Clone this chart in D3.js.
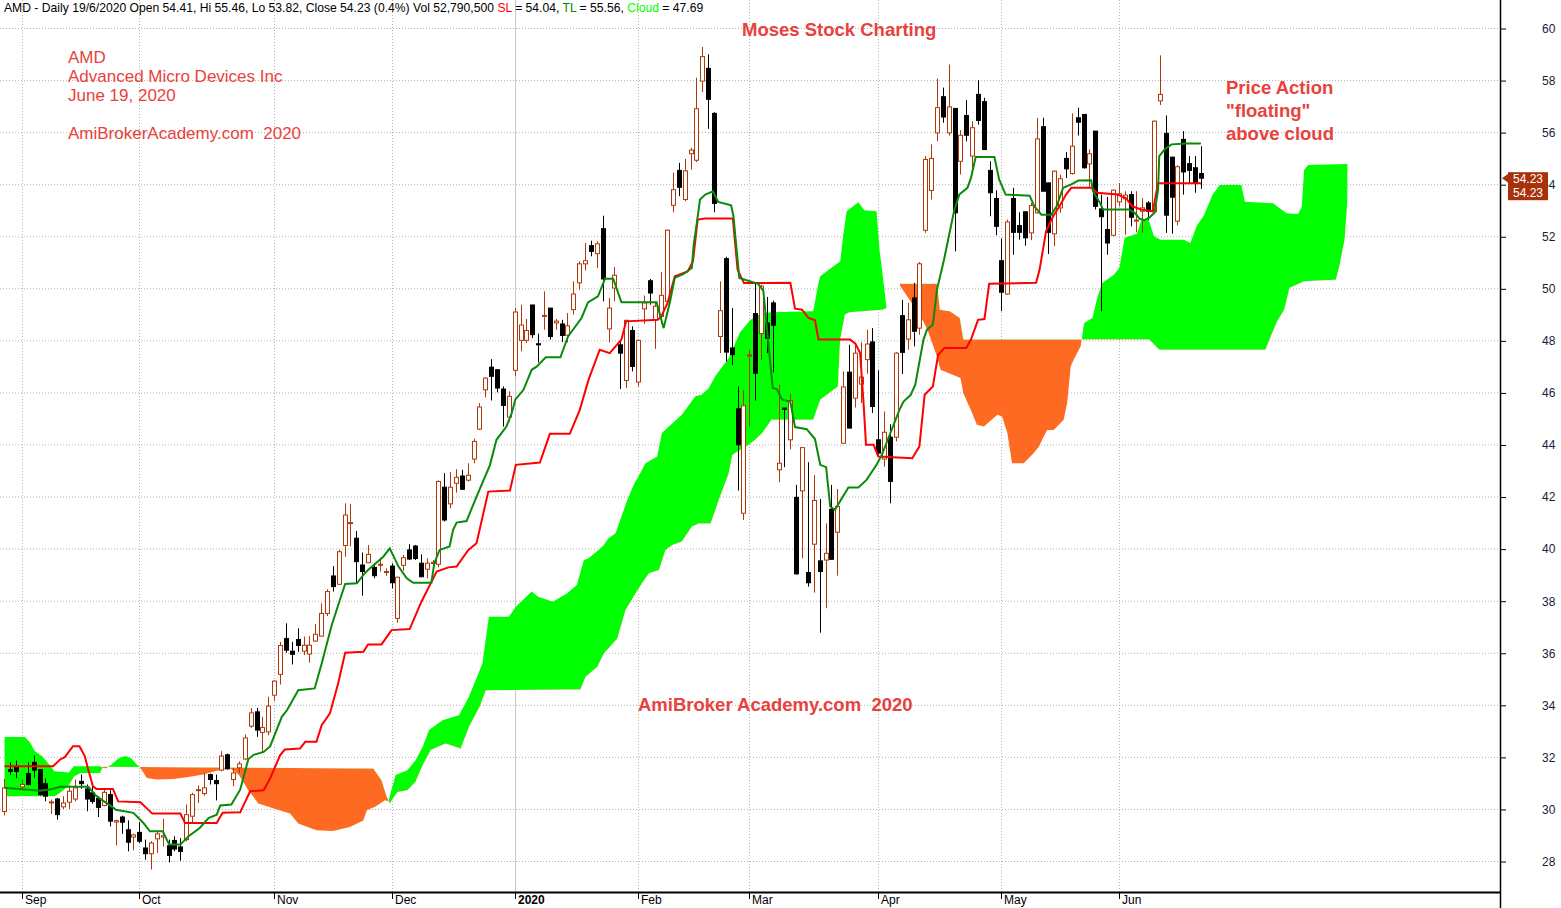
<!DOCTYPE html>
<html><head><meta charset="utf-8">
<script src="https://cdn.jsdelivr.net/npm/d3@7/dist/d3.min.js"></script>
<style>html,body{margin:0;padding:0;background:#fff;}svg{display:block;}</style>
</head><body><svg id="chart" width="1561" height="908"></svg>
<script>
// ---------- DATA (x = trading-day index, 0 = 28 Aug 2019) ----------
const monthLabels = ["Sep","Oct","Nov","Dec","2020","Feb","Mar","Apr","May","Jun"];
const monthIndex  = [3, 23, 46, 66, 87, 108, 127, 149, 170, 190];
const yTicks = [28,30,32,34,36,38,40,42,44,46,48,50,52,54,56,58,60];

const openVals = [29.90,31.51,31.64,30.85,31.36,31.79,31.51,30.97,30.25,30.38,30.08,30.26,30.38,31.06,30.77,30.62,30.40,30.13,30.55,29.50,
29.69,29.20,28.92,29.10,28.50,28.28,28.85,28.92,28.59,28.79,28.54,28.82,29.72,30.71,30.59,31.32,31.09,31.49,32.08,31.13,
31.58,31.92,33.18,33.73,32.94,32.96,34.37,35.17,36.55,36.06,36.51,36.06,35.95,36.45,36.64,37.51,38.95,38.63,40.12,40.97,
40.40,39.37,39.46,39.28,39.37,39.10,39.33,37.32,39.36,39.95,40.10,39.44,39.21,39.45,39.40,42.36,41.72,42.51,42.79,42.63,
43.44,44.59,46.10,46.97,46.87,46.13,45.05,46.85,48.00,48.00,49.36,47.87,48.93,49.24,48.67,48.63,48.20,49.18,50.21,50.94,
51.64,51.33,52.29,48.44,50.01,47.83,46.46,48.38,46.40,49.21,50.29,48.79,48.92,49.50,53.19,54.53,53.41,55.17,54.92,57.96,
58.45,56.72,48.15,51.14,47.71,45.37,41.36,47.42,49.03,48.26,48.67,49.44,43.03,45.40,44.18,41.97,42.22,39.08,40.17,39.53,
39.56,41.51,40.63,44.05,46.78,45.78,46.32,47.26,47.94,44.18,43.44,44.28,44.28,48.95,48.05,49.63,48.47,52.23,53.76,55.97,
57.36,55.97,56.91,54.88,56.64,55.08,57.45,57.17,54.53,53.45,51.06,49.78,53.45,52.41,52.94,52.13,52.90,56.21,54.05,52.09,
53.09,54.99,54.41,56.55,56.68,54.78,56.04,53.05,52.26,52.04,53.32,53.44,53.60,52.60,52.96,53.28,52.94,57.20,55.95,55.04,
52.58,55.72,54.79,54.63,54.41];
const highVals = [31.15,31.79,31.86,31.13,31.79,32.05,31.51,31.17,30.36,30.42,30.49,30.90,31.13,31.32,30.94,30.94,30.49,30.74,30.72,29.59,
29.74,29.56,29.05,29.50,28.82,28.76,29.14,29.62,28.82,28.95,28.88,30.17,30.62,30.90,31.38,31.36,31.32,32.22,32.13,31.58,
31.83,32.86,33.88,33.88,33.54,34.31,34.95,36.42,37.13,36.42,36.94,36.62,36.64,37.10,37.90,38.44,39.33,39.95,41.74,41.72,
40.68,39.85,40.14,39.44,39.65,39.24,39.44,38.92,39.76,40.17,40.14,39.78,39.63,39.56,42.62,42.90,42.94,43.05,43.03,43.28,
44.22,45.59,46.58,47.28,46.90,46.23,46.04,49.24,49.37,48.82,49.36,48.26,49.88,49.24,48.82,48.79,49.05,50.27,51.04,51.74,
51.83,51.81,52.79,49.63,50.82,47.96,48.79,48.54,48.03,49.72,50.36,49.44,50.62,52.26,54.44,54.82,54.97,55.40,58.09,59.27,
58.99,56.77,50.27,51.21,49.24,46.23,46.08,47.64,50.17,50.14,49.67,49.53,46.29,45.40,45.95,42.45,43.90,43.32,42.83,41.91,
40.97,42.45,42.29,46.81,47.83,47.83,47.92,48.41,48.47,46.85,45.27,44.78,47.55,49.56,49.44,50.21,51.01,55.08,55.53,58.06,
57.71,58.60,56.91,56.08,57.23,56.42,58.00,57.32,54.88,53.76,51.91,52.64,53.86,52.92,52.94,53.28,56.55,56.55,54.05,54.53,
54.37,55.23,56.72,56.94,56.68,55.33,56.04,53.60,53.51,53.79,54.05,53.73,53.73,53.73,53.47,53.35,56.45,58.95,56.64,55.04,
54.72,56.04,55.08,55.08,55.46];
const lowVals = [29.75,31.31,31.18,30.74,30.90,31.19,30.51,30.29,29.81,29.59,30.00,30.00,30.29,30.77,29.91,30.20,29.69,30.10,29.33,28.60,
29.04,28.37,28.41,28.69,28.05,27.67,28.31,28.56,27.95,28.37,28.01,28.76,29.46,30.23,30.51,30.94,30.33,31.45,31.51,30.87,
31.38,31.87,33.12,32.77,32.15,32.83,34.15,34.78,36.00,35.55,36.04,35.91,35.62,36.42,36.62,37.41,38.35,38.60,39.69,40.08,
38.67,38.19,39.44,38.86,39.12,38.95,38.47,37.15,39.15,39.56,39.56,38.90,38.86,39.28,39.28,41.04,41.55,42.15,42.26,42.58,
43.28,44.56,45.81,45.69,46.00,44.69,44.88,46.62,47.58,47.90,48.09,47.15,48.41,48.03,48.41,47.94,47.92,48.99,49.95,50.69,
51.23,50.78,49.50,47.92,49.50,46.13,46.17,46.81,46.23,48.64,49.37,47.67,48.64,49.44,52.92,53.54,53.35,54.56,54.85,57.54,
56.13,52.92,47.51,47.19,47.06,42.23,41.10,44.69,45.69,47.23,47.51,46.77,42.55,43.13,43.82,39.00,39.63,38.54,38.31,36.77,
37.71,39.59,38.96,44.03,44.63,45.42,45.59,46.72,45.21,43.54,43.15,41.74,44.12,46.71,47.64,47.77,48.22,52.13,53.41,55.65,
56.36,55.87,51.42,54.37,55.65,54.44,56.29,55.31,52.77,52.04,49.12,49.76,51.29,51.87,51.64,51.85,52.87,53.73,51.32,51.62,
52.90,54.24,54.37,55.87,54.60,53.86,53.03,49.12,51.29,52.00,53.15,52.06,52.38,52.15,52.15,52.62,52.90,57.04,52.13,52.10,
52.42,53.60,54.05,53.67,53.82];
const closeVals = [30.81,31.44,31.44,30.94,30.94,31.49,30.55,30.49,30.27,29.78,30.23,30.68,30.81,30.97,30.38,30.29,30.06,30.64,29.53,29.55,
29.49,28.72,29.00,28.76,28.28,28.69,29.04,28.97,28.21,28.46,28.37,29.78,30.55,30.74,30.81,31.13,30.97,32.03,31.54,31.38,
31.73,32.73,33.69,33.03,33.13,33.95,34.91,36.28,36.10,35.94,36.28,36.29,36.29,36.71,37.51,38.35,38.54,39.88,41.29,41.00,
39.50,39.12,39.78,38.96,39.40,39.12,38.69,38.90,39.65,39.60,39.62,38.92,39.44,39.47,42.58,41.10,42.36,42.74,42.28,42.82,
44.12,45.44,46.55,46.62,46.17,45.50,45.85,49.09,48.59,48.38,48.22,47.83,48.96,48.15,48.74,48.19,48.56,49.78,50.94,51.06,
51.42,51.71,50.36,49.24,50.50,47.51,48.77,47.00,48.00,49.44,49.82,49.31,49.73,52.23,53.79,53.88,54.51,55.31,56.90,58.90,
57.26,53.26,49.14,47.55,47.45,43.99,45.49,47.44,46.74,50.08,48.08,48.58,43.28,45.35,45.69,39.03,43.88,38.69,41.85,39.12,
39.82,39.59,41.62,46.21,44.63,47.51,46.59,47.86,45.46,43.67,44.47,42.58,47.51,47.54,48.79,48.35,50.94,54.95,54.99,56.94,
56.58,56.97,52.90,55.88,55.88,56.17,56.45,55.33,53.67,52.38,49.85,52.55,52.15,52.15,51.94,53.18,55.74,53.73,52.15,54.50,
54.21,54.59,55.46,56.38,54.63,55.17,53.15,52.75,51.74,53.77,53.63,53.58,52.73,52.62,53.09,52.96,56.42,57.45,52.81,53.50,
54.67,54.47,54.53,54.05,54.23];

// Tenkan (TL, green) vertices [index, price]
const tenkanPts = [[0,30.81],[4,30.74],[6,30.70],[8,30.76],[9.5,30.85],[14.3,30.85],[15.7,30.49],[18.6,30.04],[19,29.97],[22,29.85],[23.7,29.46],[24.8,29.14],[27,29.14],[28.1,28.63],[30,28.63],[31.4,28.95],[33.3,29.27],[34.8,29.65],[36.2,29.78],[36.8,30.13],[38.7,30.17],[40.2,30.74],[41.6,31.92],[42.5,32.08],[44.2,32.19],[45.3,32.4],[47.3,33.54],[48.2,33.8],[50.1,34.56],[52.9,34.63],[54.1,35.59],[55.8,37.06],[57.1,37.96],[58.1,38.64],[60.1,38.67],[61.2,38.99],[62,39.18],[64.6,39.69],[65.7,40.01],[67.2,39.31],[68.6,38.86],[69.7,38.69],[72.8,38.69],[73.3,39.44],[74.2,39.95],[75.9,40.08],[76.5,40.72],[77.1,41.0],[78.8,41.06],[80.5,42.0],[82.8,43.22],[83.9,44.18],[85.6,44.69],[86.5,45.21],[87.1,45.72],[88.5,46.1],[89.9,46.87],[90.8,47.0],[92.3,47.35],[94.8,47.35],[96.1,48.15],[98.4,48.86],[99.5,49.46],[101.2,49.69],[102.4,50.37],[103.8,50.37],[105.2,49.46],[111.2,49.46],[112.4,48.47],[113.5,49.5],[114.3,50.4],[115.8,50.55],[117.2,50.78],[117.5,51.62],[118.1,52.58],[118.6,53.41],[119.5,53.6],[120.8,53.73],[121.7,53.32],[123.9,53.19],[124.3,52.77],[125.3,50.4],[128.5,50.17],[129.4,49.9],[130.2,48.0],[131,46.17],[131.7,46.13],[132.6,45.72],[134,45.65],[134.8,44.67],[136.8,44.59],[138.2,44.21],[139.1,43.22],[140.1,43.13],[140.8,41.62],[141.6,41.49],[143.9,42.35],[145.6,42.35],[147,42.64],[148.7,43.22],[149.6,43.6],[152.6,45.33],[153.3,45.65],[154.5,45.9],[155.3,46.3],[156.7,48.03],[157.3,48.41],[158.3,48.6],[159,49.95],[160.2,51.1],[161.9,52.95],[162.8,53.6],[164.2,53.86],[164.8,54.24],[165.6,55.04],[168.8,55.04],[169.6,54.18],[170.7,53.6],[174.8,53.56],[175.6,53.15],[176.8,52.83],[178.5,52.83],[179.4,53.15],[180.5,53.86],[181.9,53.99],[183.1,54.14],[185.3,54.15],[185.6,53.73],[186.8,53.28],[187.3,53.03],[191.8,53.03],[192.7,52.9],[193.6,52.67],[194.4,52.62],[195.2,52.71],[196.1,52.9],[196.7,53.79],[196.9,55.08],[197.8,55.33],[199,55.53],[201.5,55.56],[204,55.56]];

// Kijun (SL, red) vertices
const kijunPts = [[0,31.64],[8.3,31.64],[9.5,31.9],[10.3,31.99],[11.7,32.41],[12.8,32.41],[13.7,32.03],[14.3,31.51],[15.1,30.87],[15.7,30.77],[18.5,30.77],[19.4,30.29],[23.2,30.26],[25.2,29.82],[30,29.82],[30.8,29.46],[36.2,29.46],[37.2,29.85],[40.2,29.87],[41.9,30.68],[44.2,30.72],[45.3,31.17],[47,32.06],[47.8,32.28],[50.4,32.32],[51.3,32.58],[53.2,32.58],[54.1,33.22],[55.5,33.67],[56.9,34.82],[58.1,36.0],[61.2,36.04],[62,36.32],[64.3,36.32],[66,36.87],[69.1,36.91],[71.1,37.96],[73.7,39.12],[75.7,39.28],[77.1,39.31],[79.1,39.95],[80.5,40.21],[82.5,42.19],[86.2,42.23],[87.2,43.22],[91.3,43.31],[93,44.41],[96.4,44.41],[98.1,45.33],[99.6,46.49],[101.5,47.64],[103.2,47.51],[105.2,48.03],[106,48.73],[111.4,48.79],[112,48.92],[113.1,49.46],[114.3,50.46],[116.5,50.65],[117.4,51.04],[118.2,52.64],[119.4,52.68],[124.2,52.68],[125,50.72],[126.1,50.2],[134,50.21],[134.8,49.22],[136,49.18],[137.1,48.86],[138.2,48.77],[138.8,48.03],[144.2,48.03],[145.1,47.87],[145.9,47.51],[146.5,45.53],[146.9,43.99],[148.2,43.99],[149,43.54],[154.8,43.47],[155.4,43.7],[156,43.92],[156.9,45.91],[158.3,46.23],[159.2,47.45],[160.3,47.71],[164,47.71],[164.8,48.03],[166,48.79],[167.1,48.82],[167.9,50.18],[175.9,50.21],[176.5,50.72],[177.6,52.19],[178.8,52.77],[179.9,53.15],[181,53.6],[181.9,53.86],[185.3,53.86],[186.3,53.67],[189.8,53.6],[191.2,53.47],[192.3,53.15],[193.8,53.03],[195.8,52.96],[196.7,54.04],[204,54.04]];

// Cloud boundaries: Senkou span A and span B vertices (cloud runs 25 bars past the last candle)
const spanAPts = [[0,32.76],[3.5,32.76],[4.4,32.54],[5.2,32.22],[6.4,32.03],[7.8,31.67],[8.5,31.45],[11,31.4],[11.8,31.64],[16.3,31.64],[17.3,31.55],[18.2,31.7],[19.5,31.95],[20.6,32.03],[21.6,31.95],[22.6,31.7],[23.1,31.6],[24.3,31.19],[26,31.13],[28.8,31.15],[31.1,31.22],[33.9,31.32],[36.8,31.51],[38.5,31.55],[40,31.3],[41.5,30.75],[43.3,30.21],[46.2,30.0],[48.7,29.82],[50.1,29.44],[53.2,29.18],[56,29.15],[58.9,29.31],[61.2,29.56],[61.8,29.95],[63.2,30.08],[64.9,30.33],[65.5,30.3],[65.9,30.65],[66.7,31.3],[68.7,31.49],[70.1,31.87],[71.3,32.38],[72.4,33.03],[74.7,33.41],[77.5,33.6],[79.2,34.31],[81.5,35.59],[82.6,37.38],[86,37.38],[87.2,37.77],[89.9,38.35],[91,38.15],[93.5,37.96],[95.9,38.28],[97.6,38.6],[98.8,39.56],[99.6,39.63],[101.3,39.95],[102.2,40.14],[103,40.4],[104.2,40.59],[106.2,41.87],[107.3,42.45],[108.4,42.9],[109.3,43.28],[111.3,43.54],[112.1,44.44],[113.3,44.69],[115.5,45.14],[117.8,45.85],[118.9,45.91],[120.1,46.17],[121.2,46.62],[123.5,47.32],[125.4,48.3],[127.2,48.79],[129.2,49.05],[130.8,49.08],[137.9,49.12],[138.8,50.21],[139.1,50.46],[142.5,51.04],[143,52.0],[143.6,52.96],[145.6,53.31],[146.6,53.0],[148.7,52.96],[149.2,51.49],[149.7,50.6],[150.4,49.24],[152.6,49.24],[152.7,50.1],[154.5,49.5],[156.5,48.8],[157.4,48.4],[159,47.38],[159.6,46.87],[163,46.55],[163.5,45.97],[165,45.21],[165.8,44.76],[167,44.69],[169.3,45.14],[170.1,45.08],[171,44.44],[171.8,43.28],[173.8,43.28],[175.5,43.67],[176.4,43.92],[177.2,44.31],[177.8,44.56],[178.9,44.56],[180.6,44.95],[181.2,45.59],[181.8,47.0],[182.3,47.26],[183.5,47.77],[184.1,48.67],[185.5,48.86],[186.4,49.69],[187.2,50.21],[188.4,50.4],[189.2,50.53],[190.1,50.78],[191,51.94],[193.1,52.1],[193.8,52.6],[195.1,52.62],[196,52.0],[197.1,51.87],[201.1,51.87],[202.2,51.74],[203.3,52.4],[204.5,52.8],[206,53.6],[207.2,53.97],[210.9,53.97],[211.5,53.33],[216.3,53.27],[218.6,52.88],[220.6,52.85],[221.2,53.14],[221.6,54.55],[222.3,54.74],[229,54.78]];
const spanBPts = [[0,30.49],[8.6,30.49],[9.5,30.62],[10.9,30.87],[11.9,31.26],[13,31.38],[16.3,31.38],[16.8,31.62],[62.9,31.55],[64.3,31.1],[65.1,30.53],[65.7,30.21],[67,30.65],[68.7,30.72],[70.1,31.04],[71.3,31.68],[72.7,32.26],[75.2,32.51],[77.8,32.32],[79.2,33.15],[81,33.92],[82.1,34.56],[98.2,34.59],[99.1,35.08],[101.1,35.46],[102.2,35.97],[104.5,36.55],[105.9,37.64],[107.6,38.28],[108.7,38.67],[109.9,39.05],[111.6,39.18],[112.7,39.95],[113.9,40.14],[115.5,40.27],[117.2,40.85],[118.4,40.97],[120.4,40.97],[121.8,41.87],[123.5,42.9],[124.1,43.6],[124.6,43.67],[126.9,43.99],[128,44.18],[129.2,44.44],[130.8,44.95],[137.9,44.95],[139.1,45.72],[142.1,46.23],[142.5,48.03],[143.3,48.99],[144.1,49.08],[149.7,49.18],[150.4,49.24],[152.6,49.24],[152.7,50.18],[159,50.18],[159.5,49.18],[161.2,49.12],[162.9,48.86],[163.5,48.03],[195.2,48.03],[196.9,47.64],[215,47.64],[215.9,48.15],[217,48.73],[218.2,49.18],[219.1,50.01],[221.6,50.27],[227,50.33],[227.6,50.85],[228.5,51.87],[229,53.4]];

const headerParts = [
  ["AMD - Daily 19/6/2020 Open 54.41, Hi 55.46, Lo 53.82, Close 54.23 (0.4%) Vol 52,790,500 ", "#000"],
  ["SL", "#ff0000"], [" = 54.04, ", "#000"], ["TL", "#008800"], [" = 55.56, ", "#000"],
  ["Cloud", "#00ff00"], [" = 47.69", "#000"]];
const infoLines = ["AMD", "Advanced Micro Devices Inc", "June 19, 2020", "", "AmiBrokerAcademy.com  2020"];
const noteLines = ["Price Action", "\"floating\"", "above cloud"];
const lastClose = "54.23";

// ---------- DRAWING ----------
const svg = d3.select("#chart");
const W = 1561, H = 908, axisX = 1500, axisY = 892;
const x = d3.scaleLinear().domain([0, 204]).range([4.4, 1200.9]);
const y = d3.scaleLinear().domain([28, 60]).range([861, 28]);
const textRed = "#e8423c", upCol = "#b0380a";
const FONT = "Liberation Sans, Arial, sans-serif";

svg.append("rect").attr("width", W).attr("height", H).attr("fill", "#fff");

// grid
const grid = svg.append("g");
grid.selectAll("line.h").data(yTicks).join("line")
  .attr("x1", 0).attr("x2", axisX).attr("y1", d => y(d) + 0.5).attr("y2", d => y(d) + 0.5)
  .attr("stroke", "#b4b4b4").attr("stroke-dasharray", "1,2");
grid.selectAll("line.v").data(monthIndex).join("line")
  .attr("x1", d => Math.round(x(d)) + 0.5).attr("x2", d => Math.round(x(d)) + 0.5)
  .attr("y1", 0).attr("y2", axisY)
  .attr("stroke", (d, i) => monthLabels[i] === "2020" ? "#c8c8c8" : "#b4b4b4")
  .attr("stroke-dasharray", (d, i) => monthLabels[i] === "2020" ? null : "1,2");

// cloud
const lineGen = d3.line().x(d => x(d[0])).y(d => y(d[1]));
const poly = spanAPts.concat(spanBPts.slice().reverse());
const defs = svg.append("defs");
const bFirst = spanBPts[0][0], bLast = spanBPts[spanBPts.length - 1][0];
defs.append("clipPath").attr("id", "aboveB").append("path")
  .attr("d", lineGen(spanBPts) + `L${x(bLast) + 2},-20L${x(bFirst) - 2},-20Z`);
defs.append("clipPath").attr("id", "belowB").append("path")
  .attr("d", lineGen(spanBPts) + `L${x(bLast) + 2},1000L${x(bFirst) - 2},1000Z`);
svg.append("path").attr("d", lineGen(poly) + "Z").attr("fill", "#00ff00").attr("clip-path", "url(#aboveB)");
svg.append("path").attr("d", lineGen(poly) + "Z").attr("fill", "#ff6a22").attr("clip-path", "url(#belowB)");

// candles
const idx = d3.range(closeVals.length);
const cg = svg.append("g");
cg.selectAll("line.w").data(idx).join("line")
  .attr("x1", i => Math.round(x(i)) + 0.5).attr("x2", i => Math.round(x(i)) + 0.5)
  .attr("y1", i => y(highVals[i])).attr("y2", i => y(lowVals[i]))
  .attr("stroke", i => closeVals[i] >= openVals[i] ? upCol : "#000").attr("stroke-width", 1);
cg.selectAll("rect.b").data(idx).join("rect")
  .attr("x", i => Math.round(x(i)) - 1.5)
  .attr("width", 4)
  .attr("y", i => y(Math.max(openVals[i], closeVals[i])))
  .attr("height", i => Math.max(1, Math.abs(y(openVals[i]) - y(closeVals[i]))))
  .attr("fill", i => closeVals[i] >= openVals[i] ? "#fff" : "#000")
  .attr("stroke", i => closeVals[i] >= openVals[i] ? upCol : "#000").attr("stroke-width", 1);

// indicator lines
svg.append("path").attr("d", lineGen(kijunPts)).attr("fill", "none").attr("stroke", "#ff0000").attr("stroke-width", 2);
svg.append("path").attr("d", lineGen(tenkanPts)).attr("fill", "none").attr("stroke", "#0a8a0a").attr("stroke-width", 2);

// axes
svg.append("line").attr("x1", 0).attr("x2", axisX).attr("y1", axisY + 0.5).attr("y2", axisY + 0.5).attr("stroke", "#000").attr("stroke-width", 2);
svg.append("line").attr("x1", axisX + 0.5).attr("x2", axisX + 0.5).attr("y1", 0).attr("y2", H).attr("stroke", "#000").attr("stroke-width", 1.5);
const yAxis = d3.axisRight(y).tickValues(yTicks).tickSize(6).tickPadding(36).tickFormat(d3.format("d"));
const ya = svg.append("g").attr("transform", `translate(${axisX},0.5)`).call(yAxis);
ya.select(".domain").remove();
ya.selectAll("text").attr("font-family", FONT).attr("font-size", 12).attr("fill", "#1a1a3a");
ya.selectAll("line").attr("stroke", "#000");

const xg = svg.append("g");
xg.selectAll("line").data(monthIndex).join("line")
  .attr("x1", d => Math.round(x(d)) + 0.5).attr("x2", d => Math.round(x(d)) + 0.5)
  .attr("y1", axisY).attr("y2", axisY + 7).attr("stroke", "#000");
xg.selectAll("text").data(monthIndex).join("text")
  .attr("x", d => Math.round(x(d)) + 3).attr("y", 904)
  .attr("font-family", FONT).attr("font-size", 12)
  .attr("font-weight", (d, i) => monthLabels[i] === "2020" ? "bold" : "normal")
  .text((d, i) => monthLabels[i]);

// last price marker
const yp = y(+lastClose);
svg.append("path").attr("d", `M${axisX + 2},${yp} L${axisX + 9},${yp - 5} L${axisX + 9},${yp + 5} Z`).attr("fill", "#a8300a");
svg.append("rect").attr("x", axisX + 8).attr("y", yp - 6).attr("width", 40).attr("height", 28).attr("fill", "#a8300a");
[0, 1].forEach(k => svg.append("text").attr("x", axisX + 28).attr("y", yp + 5 + k * 14)
  .attr("text-anchor", "middle").attr("font-family", FONT).attr("font-size", 12)
  .attr("fill", "#fff").text(lastClose));

// header
const ht = svg.append("text").attr("x", 4).attr("y", 12).attr("font-family", FONT)
  .attr("font-size", 12.15).style("white-space", "pre");
headerParts.forEach(p => ht.append("tspan").attr("fill", p[1]).text(p[0]));

// annotations
const ann = (txt, ax, ay, size, weight) => svg.append("text").attr("x", ax).attr("y", ay)
  .attr("font-family", FONT).attr("font-size", size).attr("font-weight", weight)
  .attr("fill", textRed).style("white-space", "pre").text(txt);
infoLines.forEach((t, k) => { if (t) ann(t, 68, 63 + k * 19, 17, "normal"); });
ann("Moses Stock Charting", 742, 36, 18.5, "bold");
noteLines.forEach((t, k) => ann(t, 1226, 94 + k * 23, 18.5, "bold"));
ann("AmiBroker Academy.com  2020", 638, 711, 18.5, "bold");
</script></body></html>
